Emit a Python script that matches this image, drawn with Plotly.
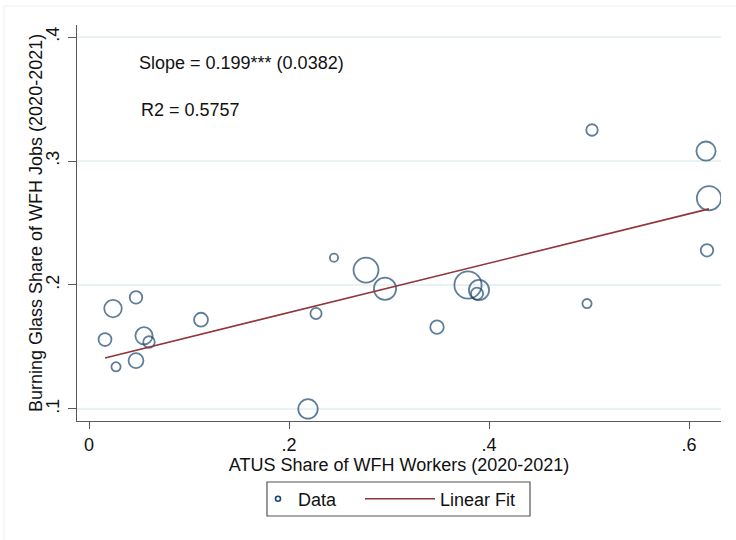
import numpy as np
import plotly.graph_objects as go

# ---- data ----
atus_share = [0.024, 0.047, 0.016, 0.055, 0.060, 0.027, 0.047, 0.112,
              0.245, 0.277, 0.296, 0.227, 0.348, 0.219, 0.379, 0.390,
              0.388, 0.503, 0.617, 0.620, 0.618, 0.498]
bg_share = [0.181, 0.190, 0.156, 0.159, 0.154, 0.134, 0.139, 0.172,
            0.222, 0.212, 0.197, 0.177, 0.166, 0.100, 0.200, 0.196,
            0.193, 0.325, 0.308, 0.270, 0.228, 0.185]
weight = [19.3, 14.3, 14.7, 19.0, 13.3, 11.0, 16.7, 15.7,
          10.0, 26.7, 24.0, 13.0, 15.3, 21.3, 29.0, 22.0,
          14.0, 13.3, 21.0, 26.0, 14.3, 11.0]
slope = 0.199
intercept = 0.138
slope_text = "Slope = 0.199*** (0.0382)"
r2_text = "R2 = 0.5757"
x_title = "ATUS Share of WFH Workers (2020-2021)"
y_title = "Burning Glass Share of WFH Jobs (2020-2021)"
x_ticks = [0, 0.2, 0.4, 0.6]
x_ticklabels = ["0", ".2", ".4", ".6"]
y_ticks = [0.1, 0.2, 0.3, 0.4]
y_ticklabels = [".1", ".2", ".3", ".4"]

NAVY = "#1a476f"
MAROON = "#90353b"
FONT = "Liberation Sans, Arial, sans-serif"
TXT = "#111111"

marker_size = [w - 1.8 for w in weight]
fit_x = [min(atus_share), max(atus_share)]
fit_y = [intercept + slope * v for v in fit_x]

fig = go.Figure()
fig.add_trace(go.Scatter(
    x=atus_share, y=bg_share, mode="markers", showlegend=False,
    marker=dict(symbol="circle-open", size=marker_size, color=NAVY,
                line=dict(color=NAVY, width=1.8)),
))
fig.add_trace(go.Scatter(
    x=[None], y=[None], mode="markers", name="Data", legend="legend",
    marker=dict(symbol="circle-open", size=5, color=NAVY,
                line=dict(color=NAVY, width=1.6)),
))
fig.add_trace(go.Scatter(
    x=fit_x, y=fit_y, mode="lines", name="Linear Fit", legend="legend2",
    line=dict(color=MAROON, width=1.6),
))

fig.add_annotation(x=0.048, y=0.379, xref="x", yref="y", text=slope_text,
                   showarrow=False, xanchor="left", yanchor="middle",
                   font=dict(size=18, color=TXT, family=FONT))
fig.add_annotation(x=0.050, y=0.341, xref="x", yref="y", text=r2_text,
                   showarrow=False, xanchor="left", yanchor="middle",
                   font=dict(size=18, color=TXT, family=FONT))
# y-axis title
fig.add_annotation(x=(36 - 77) / 644, y=0.5, xref="paper", yref="paper",
                   text=y_title, showarrow=False, textangle=-90,
                   xanchor="center", yanchor="middle",
                   font=dict(size=18, color=TXT, family=FONT))

# faint outer frame
fig.add_shape(type="rect", xref="paper", yref="paper",
              x0=-0.1134, x1=1.2, y0=-0.5, y1=1.048,
              line=dict(color="#eeeeee", width=1), layer="below")
# legend frame (encloses both legend entries)
fig.add_shape(type="rect", xref="paper", yref="paper",
              x0=0.295, x1=0.7034, y0=-0.2399, y1=-0.154,
              line=dict(color="#555555", width=1.2), fillcolor="white",
              layer="below")

leg_common = dict(orientation="h", xanchor="left", yanchor="middle",
                  y=-0.197, borderwidth=0, bgcolor="rgba(0,0,0,0)",
                  font=dict(size=18, color=TXT, family=FONT))

fig.update_layout(
    width=736, height=540,
    margin=dict(l=77, r=15, t=25, b=119),
    paper_bgcolor="white", plot_bgcolor="white",
    font=dict(family=FONT, size=18, color=TXT),
    xaxis=dict(range=[-0.012, 0.632], tickvals=x_ticks, ticktext=x_ticklabels,
               showgrid=False, zeroline=False, showline=True,
               linecolor="#5a5a5a", linewidth=1.2, ticks="outside",
               ticklen=7, tickcolor="#5a5a5a", tickwidth=1.2,
               tickfont=dict(size=18, color=TXT),
               title=dict(text=x_title, font=dict(size=18, color=TXT),
                          standoff=4)),
    yaxis=dict(range=[0.0903, 0.4097], tickvals=y_ticks, ticktext=y_ticklabels,
               showgrid=True, gridcolor="#eaf1f2", gridwidth=1.5,
               zeroline=False, showline=True,
               linecolor="#5a5a5a", linewidth=1.2, ticks="outside",
               ticklen=8, tickcolor="#5a5a5a", tickwidth=1.2, tickangle=-90,
               ticklabelstandoff=2,
               tickfont=dict(size=18, color=TXT)),
    legend=dict(x=(258 - 77) / 644, itemwidth=30, **leg_common),
    legend2=dict(x=(360 - 77) / 644, itemwidth=70, **leg_common),
)

fig.write_html("out.html")
